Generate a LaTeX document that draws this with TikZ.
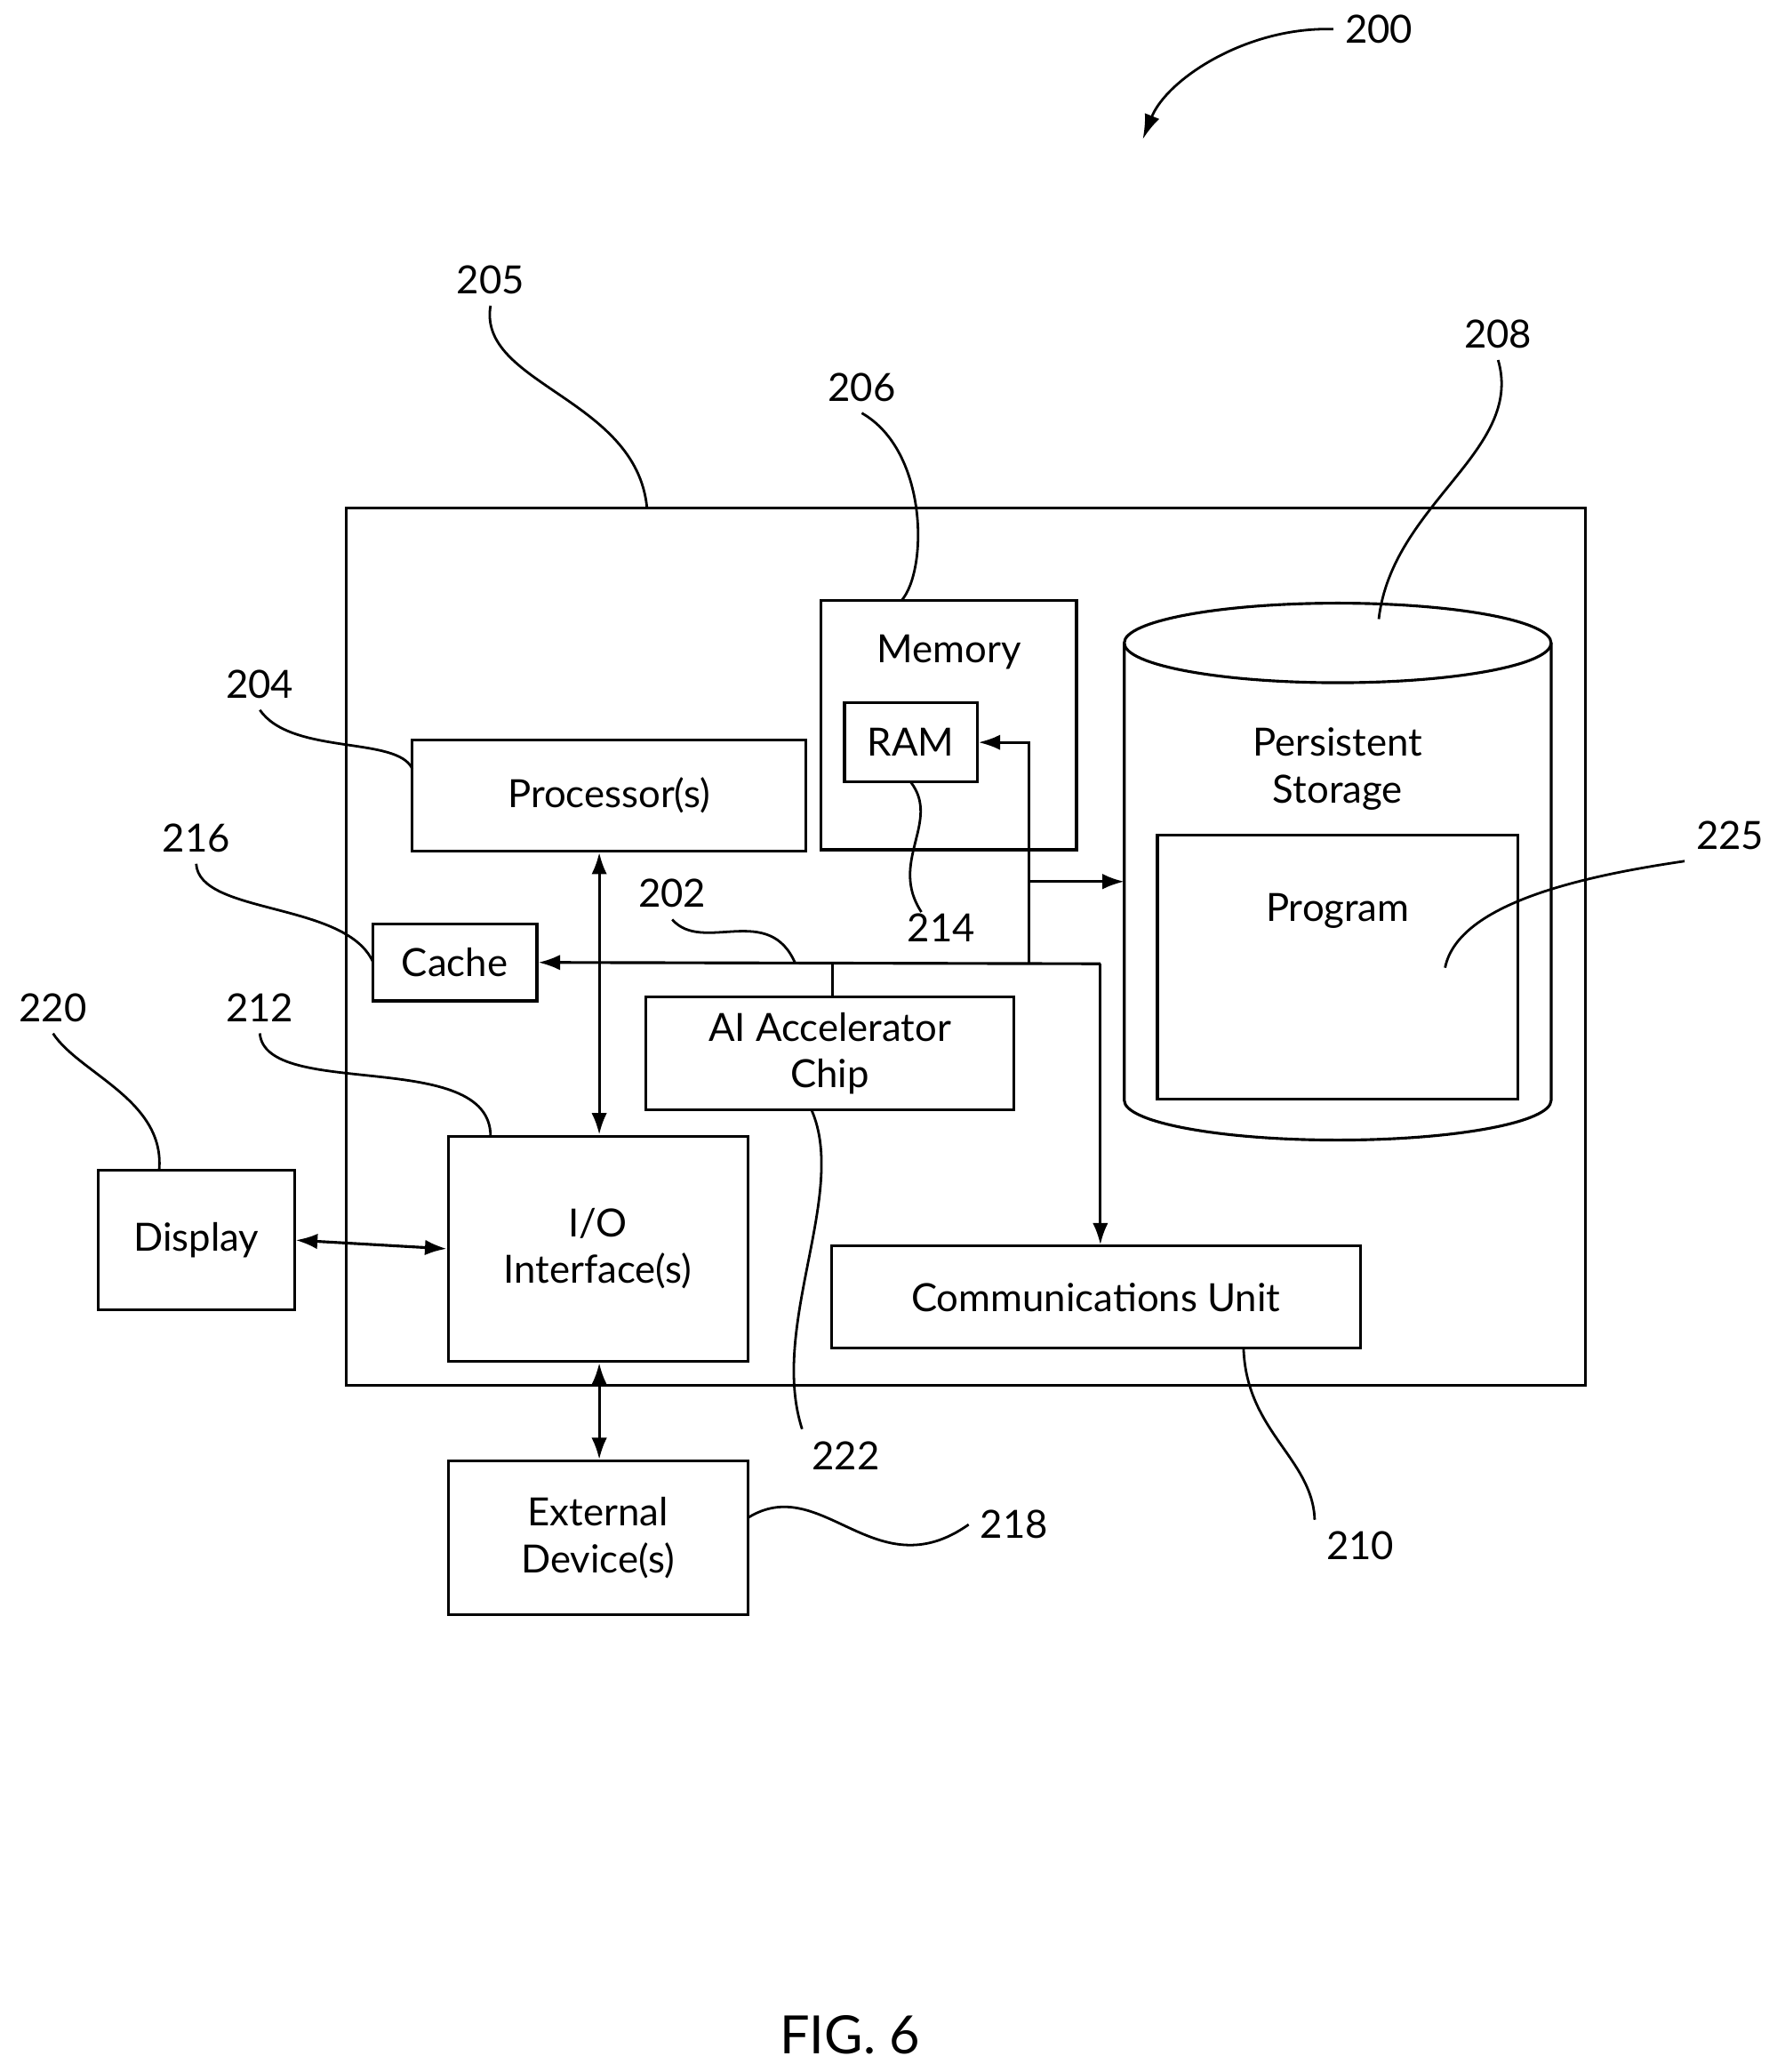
\documentclass[tikz,border=0pt]{standalone}
\usepackage{fontspec}
\setmainfont{Lato}
\usetikzlibrary{arrows.meta,shapes.geometric}

\begin{document}
\begin{tikzpicture}[
  x=0.015cm, y=-0.015cm,
  line width=0.9pt,
  font=\fontsize{12.5}{15}\selectfont,
  block/.style = {draw,rectangle,inner sep=0pt,align=center},
  refnum/.style = {font=\fontsize{12.5}{15}\selectfont},
  leader/.style = {line width=0.8pt},
  bus/.style = {-{Latex[length=7pt,width=5pt]}},
  busboth/.style = {{Latex[length=7pt,width=5pt]}-{Latex[length=7pt,width=5pt]}}
  ]
  \useasboundingbox (0,0) rectangle (1340,1563);
  % boxes
  \draw (261,383) rectangle (1196,1045);
  \coordinate (outer) at (488,383);
  \node[block,minimum width=297*0.015cm,minimum height=84*0.015cm] (proc) at (459.5,600) {Processor(s)};
  \draw (619,453) rectangle (812,641);
  \node (memtxt) at (716,492) {Memory};
  \node[block,minimum width=100*0.015cm,minimum height=60*0.015cm] (ram) at (687,560) {RAM};
  \node[block,minimum width=124*0.015cm,minimum height=58*0.015cm] (cache) at (343,726) {Cache};
  \node[block,minimum width=278*0.015cm,minimum height=85*0.015cm] (ai) at (626,794.5) {AI Accelerator\\Chip};
  \node[block,minimum width=226*0.015cm,minimum height=170*0.015cm] (io) at (451,942) {I/O\\Interface(s)};
  \node[block,minimum width=148*0.015cm,minimum height=105*0.015cm] (disp) at (148,935.5) {Display};
  \node[block,minimum width=399*0.015cm,minimum height=77*0.015cm] (comm) at (826.5,978.5) {Communications Unit};
  \node[block,minimum width=226*0.015cm,minimum height=116*0.015cm] (ext) at (451,1160) {External\\Device(s)};
  % persistent storage
  \draw (848,485) -- (848,830) arc[start angle=180,end angle=0,x radius=161,y radius=30] -- (1170,485);
  \draw (1009,485) ellipse [x radius=161,y radius=30];
  \node[align=center] (pstxt) at (1009,580) {Persistent\\Storage};
  \node[block,minimum width=272*0.015cm,minimum height=199*0.015cm,anchor=north] (prog) at (1009,629) {};
  \node (progtxt) at (1009,687) {Program};
  % bus
  \coordinate (b1) at (628,727);
  \coordinate (b2) at (776,727);
  \coordinate (b3) at (830,727);
  \coordinate (b4) at (776,665);
  \draw[bus] (b3) -- (cache.east);
  \draw[bus] (b3) -- (comm.north -| b3);
  \draw (b1) -- (ai.north -| b1);
  \draw[bus] (b2) |- (ram.east);
  \draw[bus] (b4) -- (848,665);
  \draw[busboth] (proc.south -| 452,0) -- (io.north -| 452,0);
  \draw[busboth] (disp.east) -- (io.west);
  \draw[busboth] (io.south -| 452,0) -- (ext.north -| 452,0);
  % reference numerals
  \node[refnum] (n200) at (1040,22) {200};
  \draw[leader,-{Latex[length=8pt,width=5pt]}] (n200.west) .. controls (940,20) and (880,60) .. (862,105);
  \node[refnum] (n205) at (370,211) {205};
  \draw[leader] (n205.south) .. controls (360,290) and (480,300) .. (488,383);
  \node[refnum] (n206) at (650,292) {206};
  \draw[leader] (n206.south) .. controls (700,340) and (700,430) .. (680,453);
  \node[refnum] (n208) at (1130,252) {208};
  \draw[leader] (n208.south) .. controls (1150,340) and (1050,380) .. (1040,467);
  \node[refnum] (n204) at (196,516) {204};
  \draw[leader] (n204.south) .. controls (220,570) and (300,555) .. (311,580);
  \node[refnum] (n216) at (148,632) {216};
  \draw[leader] (n216.south) .. controls (150,690) and (260,680) .. (281,725);
  \node[refnum] (n220) at (40,760) {220};
  \draw[leader] (n220.south) .. controls (60,810) and (125,830) .. (120,883);
  \node[refnum] (n212) at (196,760) {212};
  \draw[leader] (n212.south) .. controls (200,830) and (370,790) .. (370,857);
  \node[refnum] (n202) at (507,674) {202};
  \draw[leader] (n202.south) .. controls (530,720) and (580,680) .. (600,727);
  \node[refnum] (n214) at (710,700) {214};
  \draw[leader] (695,688) .. controls (670,650) and (710,620) .. (687,590);
  \node[refnum] (n225) at (1305,630) {225};
  \draw[leader] (n225.south west) .. controls (1200,660) and (1100,680) .. (1090,730);
  \node[refnum] (n222) at (638,1098) {222};
  \draw[leader] (605,1078) .. controls (580,1000) and (640,900) .. (612,837);
  \node[refnum] (n210) at (1026,1166) {210};
  \draw[leader] (n210.north west) .. controls (990,1100) and (940,1080) .. (938,1017);
  \node[refnum] (n218) at (765,1150) {218};
  \draw[leader] (n218.west) .. controls (660,1200) and (620,1110) .. (564,1145);
  \node[font=\fontsize{17}{20}\selectfont] (fig) at (641,1535) {FIG. 6};
\end{tikzpicture}
\end{document}
